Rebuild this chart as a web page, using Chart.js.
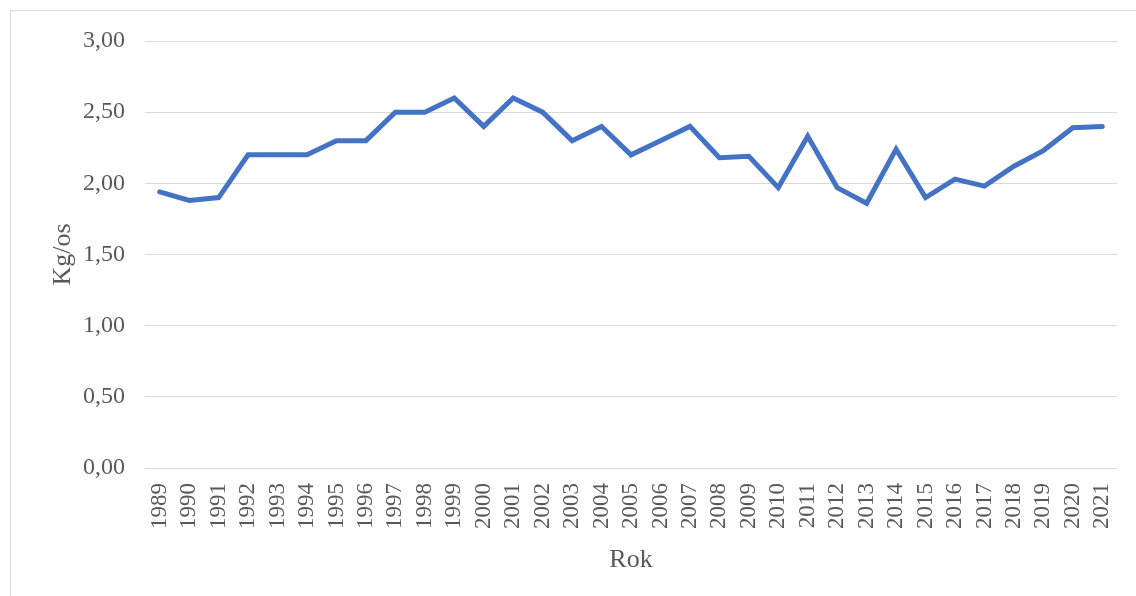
<!DOCTYPE html>
<html>
<head>
<meta charset="utf-8">
<script src="https://cdn.jsdelivr.net/npm/chart.js@4.4.1/dist/chart.umd.min.js"></script>
<style>
  html, body { margin: 0; padding: 0; background: #fff; }
  #wrap { position: relative; width: 1136px; height: 596px; }
  #frame { position: absolute; left: 10px; top: 10px; width: 1140px; height: 600px; border: 1px solid #d9d9d9; box-sizing: border-box; }
  canvas { position: absolute; left: 0; top: 0; }
</style>
</head>
<body>
<div id="wrap">
  <div id="frame"></div>
  <canvas id="grafico" width="1136" height="596"></canvas>
</div>
<script>
const lata = ['1989','1990','1991','1992','1993','1994','1995','1996','1997','1998','1999','2000','2001','2002','2003','2004','2005','2006','2007','2008','2009','2010','2011','2012','2013','2014','2015','2016','2017','2018','2019','2020','2021'];
const kgNaOsobe = [1.94,1.88,1.90,2.20,2.20,2.20,2.30,2.30,2.50,2.50,2.60,2.40,2.60,2.50,2.30,2.40,2.20,2.30,2.40,2.18,2.19,1.97,2.33,1.97,1.86,2.24,1.90,2.03,1.98,2.12,2.23,2.39,2.40];

const czcionka = 'Liberation Serif, Times New Roman, serif';
const szary = '#595959';

new Chart(document.getElementById('grafico'), {
    type: 'line',
    data: {
        labels: lata,
        datasets: [{
            label: 'Kg/os',
            data: kgNaOsobe,
            borderColor: '#4472C4',
            borderWidth: 5,
            pointRadius: 0,
            tension: 0,
            borderCapStyle: 'round',
            borderJoinStyle: 'miter'
        }]
    },
    options: {
        responsive: false,
        animation: false,
        layout: { padding: { left: 40, right: 19, top: 41, bottom: 20 } },
        plugins: { legend: { display: false }, tooltip: { enabled: false } },
        scales: {
            x: {
                offset: true,
                grid: { display: false, drawTicks: false },
                border: { display: false },
                ticks: {
                    color: szary,
                    font: { family: czcionka, size: 23 },
                    minRotation: 90, maxRotation: 90,
                    autoSkip: false,
                    padding: 15
                },
                title: {
                    display: true, text: 'Rok', color: szary,
                    font: { family: czcionka, size: 26 },
                    padding: { top: 0, bottom: 0 }
                },
                afterFit: s => { s.height = 108; s.paddingLeft = 0; s.paddingRight = 0; }
            },
            y: {
                min: 0, max: 3,
                grid: { color: '#d9d9d9', lineWidth: 1, drawTicks: false },
                border: { display: false },
                ticks: {
                    stepSize: 0.5,
                    color: szary,
                    font: { family: czcionka, size: 24 },
                    padding: 20,
                    callback: v => v.toFixed(2).replace('.', ',')
                },
                title: {
                    display: true, text: 'Kg/os', color: szary,
                    font: { family: czcionka, size: 26 },
                    padding: { top: 8, bottom: 0 }
                },
                afterFit: s => { s.width = 105; }
            }
        }
    }
});
</script>
</body>
</html>
